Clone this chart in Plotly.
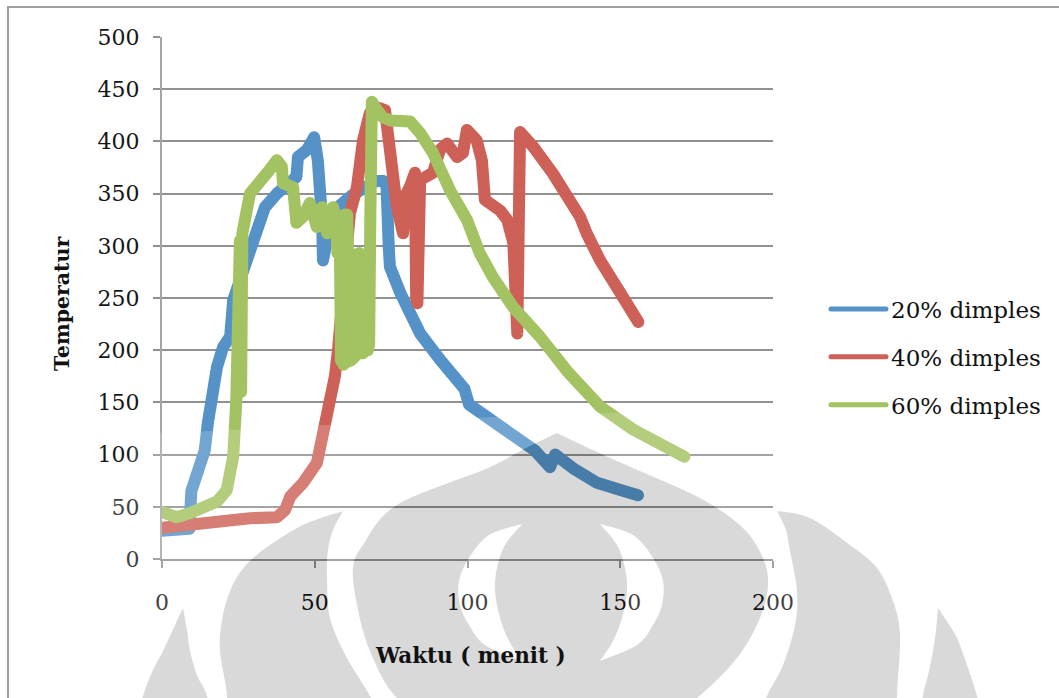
import plotly.graph_objects as go

# ---------------- data: temperature vs time (minutes) ----------------
t_20 = [0, 3, 6, 9, 9.6, 10.5, 12.4, 14, 15, 16.3, 18, 20, 22.3, 23.3, 26, 28.8, 31, 33.7,
        37.6, 41.9, 44, 44.5, 47.5, 49.8, 51, 52.4, 52.7, 55, 58, 62, 66, 70, 72.5, 73.5,
        74.2, 74.6, 78, 84.5, 91, 96.4, 99, 100.5, 107.4, 116.2, 122, 127, 128.7, 135,
        142.4, 149, 155.8]
temp_20 = [27, 27, 28, 29, 65, 73, 85, 104, 130, 162, 184, 203, 213, 248, 270, 292, 318, 337,
           350, 360, 366, 385, 392, 404, 382, 325, 286, 320, 338, 348, 355, 362, 362, 357,
           300, 280, 255, 216, 191, 174, 163, 148, 133, 117, 104, 88, 100, 86,
           73, 67, 61]

t_40 = [0, 7, 18, 28.8, 37.6, 40.3, 42, 46.2, 50.7, 52.7, 55, 56.6, 57.6, 60.5, 61.5, 63.8,
        65.8, 68, 71, 73, 74.6, 76.9, 78.9, 80, 81.2, 82.8, 83.2, 83.6, 84.5, 88.7, 91, 93.3,
        96.6, 98.5, 99.8, 103, 104.7, 105.7, 110.6, 113, 115, 115.7, 116.3, 117.2, 121.5,
        128, 136.8, 139, 143.4, 150, 155.9]
temp_40 = [30, 32, 38, 39, 40, 47, 60, 73, 92, 117, 146, 175, 200, 293, 331, 356,
           401, 427, 432, 430, 389, 337, 312, 350, 357, 370, 250, 245, 363, 370, 392, 398,
           385, 389, 411, 401, 382, 344, 334, 325, 303, 216, 216, 409, 395,
           369, 328, 312, 286, 255, 227]

t_60 = [0, 4.8, 9.2, 13.4, 18, 21.2, 23.3, 24.3, 24.7, 25.1, 25.5, 25.9, 26.3, 28.8, 32,
        35.3, 37.6, 39.2, 39.6, 42.9, 44, 46.2, 48.4, 50.7, 52.4, 54, 56, 56.5, 57, 57.4,
        57.8, 58.2, 58.6, 59, 59.4, 59.8, 60.2, 60.6, 61, 61.4, 61.8, 62.2, 62.6, 63, 63.4,
        63.8, 64.2, 64.6, 65, 65.4, 65.8, 66.2, 66.6, 67, 67.4, 67.8, 68.2, 68.7,
        70.4, 72.3, 75, 78, 81.2, 84.5, 88.7, 94.3, 99.8, 104, 108.3, 115, 123.7, 132.6,
        143.4, 154.2, 162, 171]
temp_60 = [45, 40, 44, 50, 55, 66, 98, 150, 305, 150, 305, 160, 312, 350, 360,
           373, 382, 376, 360, 356, 322, 328, 341, 318, 337, 312, 337, 330, 325, 293,
           200, 310, 190, 320, 186, 330, 188, 330, 190, 300, 190, 290, 192, 290, 195,
           292, 198, 293, 197, 290, 197, 288, 200, 285, 200, 205, 330, 438,
           430, 423, 420, 419, 419, 408, 389, 353, 325, 293, 270, 241, 213, 180,
           146, 124, 111, 98]

series_names = ["20% dimples", "40% dimples", "60% dimples"]
series_colors = ["rgb(84,146,199)", "rgb(205,97,87)", "rgb(163,194,97)"]

x_ticks = [0, 50, 100, 150, 200]
y_ticks = [0, 50, 100, 150, 200, 250, 300, 350, 400, 450, 500]

# ---------------- page geometry ----------------
FIG_W, FIG_H = 1059, 698
M_L, M_R, M_T, M_B = 162, 286, 37, 139
PW = FIG_W - M_L - M_R
PH = FIG_H - M_T - M_B


def to_paper(px, py):
    return (px - M_L) / PW, (M_T + PH - py) / PH


def signed_area(edges):
    pts = [p for e in edges for p in e]
    a = 0.0
    for i in range(len(pts)):
        x1, y1 = pts[i]
        x2, y2 = pts[(i + 1) % len(pts)]
        a += x1 * y2 - x2 * y1
    return a


def oriented(edges, sign):
    if (signed_area(edges) > 0) != (sign > 0):
        edges = [list(reversed(e)) for e in reversed(edges)]
    return edges


def subpath(edges):
    """Closed outline made of smooth Catmull-Rom edges joined at corners."""
    first = to_paper(*edges[0][0])
    out = [f"M{first[0]:.5f},{first[1]:.5f}"]
    for pts in edges:
        n = len(pts)
        for i in range(n - 1):
            p0 = pts[i - 1] if i > 0 else pts[i]
            p1, p2 = pts[i], pts[i + 1]
            p3 = pts[i + 2] if i + 2 < n else pts[i + 1]
            c1 = (p1[0] + (p2[0] - p0[0]) / 6, p1[1] + (p2[1] - p0[1]) / 6)
            c2 = (p2[0] - (p3[0] - p1[0]) / 6, p2[1] - (p3[1] - p1[1]) / 6)
            a, b, c = to_paper(*c1), to_paper(*c2), to_paper(*p2)
            out.append(f"C{a[0]:.5f},{a[1]:.5f} {b[0]:.5f},{b[1]:.5f} {c[0]:.5f},{c[1]:.5f}")
    out.append("Z")
    return " ".join(out)


# background emblem (page watermark), outlines in page pixels
onion = [
    [(557, 433), (595, 451), (633, 468), (700, 498), (743, 528), (763, 558), (768, 585),
     (760, 618), (737, 658), (697, 698), (650, 730)],
    [(650, 730), (450, 730)],
    [(450, 730), (397, 698), (370, 651), (357, 605), (353, 568), (363, 545), (397, 505),
     (488, 468), (522, 450), (557, 433)],
]
crescent_r = [
    [(600, 524), (633, 535), (653, 558), (663, 581), (662, 605), (653, 625), (637, 645), (600, 661)],
    [(600, 661), (613, 641), (622, 618), (627, 591), (625, 568), (617, 545), (600, 524)],
]
crescent_l = [
    [(522, 524), (489, 535), (469, 558), (459, 581), (460, 605), (469, 625), (485, 645), (522, 661)],
    [(522, 661), (509, 641), (500, 618), (495, 591), (497, 568), (505, 545), (522, 524)],
]
horn_l = [
    [(343, 511), (333, 530), (328, 550), (327, 575), (330, 618), (347, 658), (370, 696), (385, 730)],
    [(385, 730), (225, 730)],
    [(225, 730), (227, 696), (220, 651), (222, 620), (230, 591), (245, 566), (270, 545),
     (305, 524), (343, 511)],
]
horn_r = [
    [(777, 511), (786, 530), (790, 551), (797, 591), (795, 625), (783, 665), (767, 696), (755, 730)],
    [(755, 730), (897, 730)],
    [(897, 730), (897, 696), (900, 635), (893, 601), (877, 568), (850, 545), (810, 518), (777, 511)],
]
wedge_l = [
    [(183, 608), (187, 630), (190, 651), (197, 675), (207, 696), (212, 730)],
    [(212, 730), (135, 730)],
    [(135, 730), (143, 696), (153, 670), (163, 651), (175, 625), (183, 608)],
]
wedge_r = [
    [(938, 608), (936, 630), (933, 651), (928, 675), (923, 696), (920, 730)],
    [(920, 730), (985, 730)],
    [(985, 730), (977, 696), (967, 665), (957, 638), (946, 620), (938, 608)],
]
emblem_box = [[(135, 433), (985, 433), (985, 730), (135, 730), (135, 433)]]

solid_parts = [onion, horn_l, horn_r, wedge_l, wedge_r]
hole_parts = [crescent_l, crescent_r]

gray_path = " ".join([subpath(oriented(e, 1)) for e in solid_parts] +
                     [subpath(oriented(e, -1)) for e in hole_parts])
light_path = " ".join([subpath(oriented(emblem_box, 1))] +
                      [subpath(oriented(e, -1)) for e in solid_parts] +
                      [subpath(oriented(e, 1)) for e in hole_parts])

# ---------------- figure ----------------
fig = go.Figure()
for name, xs, ys, col in zip(series_names, [t_20, t_40, t_60], [temp_20, temp_40, temp_60],
                             series_colors):
    fig.add_trace(go.Scatter(x=xs, y=ys, name=name, mode="lines", legendgroup=name,
                             line=dict(color=col, width=12)))

GRID = "rgb(145,145,145)"
TICK_FONT = dict(family="DejaVu Serif", size=22, color="#161616")

fig.update_layout(
    width=FIG_W, height=FIG_H,
    margin=dict(l=M_L, r=M_R, t=M_T, b=M_B, pad=0),
    paper_bgcolor="white", plot_bgcolor="white",
    xaxis=dict(range=[0, 200], tickvals=x_ticks, ticks="outside", ticklen=7, tickwidth=2,
               tickcolor=GRID, showline=True, linecolor=GRID, linewidth=2, showgrid=False,
               zeroline=False, tickfont=TICK_FONT, ticklabelstandoff=16),
    yaxis=dict(range=[0, 500], tickvals=y_ticks, ticks="outside", ticklen=7, tickwidth=2,
               tickcolor=GRID, showline=True, linecolor="rgb(165,165,165)", linewidth=2,
               showgrid=True, gridcolor=GRID, gridwidth=2, zeroline=False,
               tickfont=TICK_FONT, ticklabelstandoff=9),
    showlegend=True,
    legend=dict(x=(826 - M_L) / PW, y=(M_T + PH - 357) / PH, xanchor="left", yanchor="middle",
                font=dict(family="DejaVu Serif", size=23, color="#111111"),
                itemwidth=55, tracegroupgap=15, traceorder="grouped",
                bgcolor="rgba(0,0,0,0)", borderwidth=0),
    annotations=[
        dict(text="<b>Temperatur</b>", xref="paper", yref="paper",
             x=to_paper(62, 303)[0], y=to_paper(62, 303)[1], textangle=-90,
             showarrow=False, xanchor="center", yanchor="middle",
             font=dict(family="DejaVu Serif", size=20.5, color="#111111")),
        dict(text="<b>Waktu ( menit )</b>", xref="paper", yref="paper",
             x=to_paper(470, 655)[0], y=to_paper(470, 655)[1],
             showarrow=False, xanchor="center", yanchor="middle",
             font=dict(family="DejaVu Serif", size=21.5, color="#111111")),
    ],
    shapes=[
        dict(type="rect", xref="paper", yref="paper",
             x0=to_paper(8, 7)[0], y0=to_paper(8, 7)[1],
             x1=to_paper(1080, 720)[0], y1=to_paper(1080, 720)[1],
             line=dict(color="rgb(160,160,160)", width=2), layer="below"),
        dict(type="path", xref="paper", yref="paper", path=light_path,
             fillcolor="rgba(255,255,255,0.18)", line=dict(width=0), layer="above"),
        dict(type="path", xref="paper", yref="paper", path=gray_path,
             fillcolor="rgba(0,0,0,0.15)", line=dict(width=0), layer="above"),
    ],
)

# rounded line joins/caps; slimmer strokes for the legend keys
style_js = """
var css = document.createElement('style');
css.textContent =
  '.scatterlayer path.js-line { stroke-linejoin: round !important; stroke-linecap: round !important; }' +
  '.legend path.js-line { stroke-width: 5px !important; stroke-linecap: round !important; }';
document.head.appendChild(css);
"""

fig.write_html("out.html", post_script=style_js)
